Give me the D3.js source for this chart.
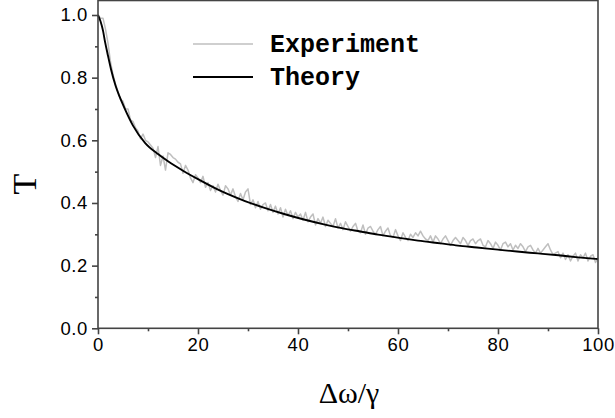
<!DOCTYPE html>
<html><head><meta charset="utf-8">
<script src="https://cdn.jsdelivr.net/npm/d3@7/dist/d3.min.js"></script>
<style>body{margin:0;background:#fff}svg{display:block}</style>
</head><body><svg id="c" width="615" height="418"></svg>
<script>
// Theory curve
const theoryX = [0,0.5,1,1.4,2,2.6,3.5,4.3,5.3,7,9.4,12,14,17,20,23.7,26,29.4,33,37.4,41,45.4,49,52.5,56,60.5,64,68.5,72,75.8,80,83.8,88,92.1,96,100];
const theoryY = [1.0,0.98,0.95,0.915,0.87,0.827,0.775,0.74,0.703,0.647,0.592,0.556,0.533,0.503,0.476,0.445,0.428,0.406,0.386,0.364,0.348,0.331,0.319,0.309,0.299,0.288,0.28,0.271,0.264,0.258,0.251,0.245,0.239,0.233,0.2265,0.221];
// Experiment trace, x step 0.5 from 0 to 100
const expY = [1.00,0.99,0.99,0.955,0.91,0.85,0.81,0.78,0.755,0.73,0.725,0.70,0.70,0.665,0.66,0.64,0.63,0.605,0.62,0.60,
0.595,0.585,0.575,0.545,0.58,0.52,0.55,0.505,0.56,0.555,0.545,0.54,0.53,0.525,0.495,0.52,0.505,0.48,0.465,0.49,
0.48,0.465,0.485,0.45,0.465,0.44,0.455,0.435,0.46,0.44,0.425,0.455,0.445,0.425,0.445,0.42,0.405,0.43,0.41,0.435,
0.445,0.395,0.41,0.385,0.405,0.38,0.395,0.40,0.375,0.395,0.37,0.39,0.365,0.385,0.355,0.38,0.36,0.375,0.35,0.37,
0.355,0.365,0.345,0.37,0.34,0.355,0.365,0.33,0.35,0.335,0.355,0.325,0.345,0.335,0.325,0.35,0.32,0.335,0.315,0.34,
0.325,0.31,0.325,0.335,0.31,0.305,0.33,0.30,0.32,0.325,0.31,0.30,0.315,0.325,0.295,0.31,0.32,0.295,0.29,0.315,
0.295,0.28,0.305,0.29,0.28,0.30,0.29,0.305,0.295,0.31,0.295,0.285,0.28,0.295,0.275,0.295,0.285,0.27,0.285,0.295,
0.28,0.265,0.28,0.29,0.28,0.27,0.29,0.28,0.265,0.28,0.285,0.27,0.28,0.285,0.265,0.26,0.28,0.27,0.255,0.275,
0.265,0.25,0.27,0.275,0.26,0.27,0.25,0.265,0.255,0.27,0.26,0.245,0.26,0.265,0.25,0.24,0.255,0.24,0.25,0.26,
0.27,0.25,0.235,0.24,0.245,0.225,0.24,0.22,0.235,0.215,0.23,0.24,0.215,0.235,0.225,0.24,0.215,0.23,0.235,0.21,0.225];
const expX = expY.map((d,i)=>i*0.5);
const xTicks = [0,20,40,60,80,100];
const yTicks = [0.0,0.2,0.4,0.6,0.8,1.0];
const xMinor = [10,30,50,70,90];
const yMinor = [0.1,0.3,0.5,0.7,0.9];
const legendLabels = ["Experiment","Theory"];

const svg = d3.select("#c");
const L=98,R=598,T=0.5,B=328.3;
const x = d3.scaleLinear().domain([0,100]).range([L,R]);
const y = d3.scaleLinear().domain([0,1.0]).range([B,15]);
const axCol="#444";

// data lines
const expLine = d3.line().x(d=>x(d[0])).y(d=>y(d[1]));
const thLine = d3.line().x(d=>x(d[0])).y(d=>y(d[1])).curve(d3.curveMonotoneX);
svg.append("path").datum(expX.map((v,i)=>[v,expY[i]]))
  .attr("d",expLine).attr("fill","none").attr("stroke","#bfbfbf").attr("stroke-width",1.5).attr("stroke-linejoin","round");
svg.append("path").datum(theoryX.map((v,i)=>[v,theoryY[i]]))
  .attr("d",thLine).attr("fill","none").attr("stroke","#000").attr("stroke-width",1.9);

// frame
svg.append("rect").attr("x",L).attr("y",T).attr("width",R-L).attr("height",B-T)
  .attr("fill","none").attr("stroke",axCol).attr("stroke-width",1.6);

const fmt = d3.format(".1f");
const xAxis = svg.append("g").attr("transform",`translate(0,${B})`)
  .call(d3.axisBottom(x).tickValues(xTicks).tickSize(6).tickPadding(4).tickFormat(d3.format("d")));
const yAxis = svg.append("g").attr("transform",`translate(${L},0)`)
  .call(d3.axisLeft(y).tickValues(yTicks).tickSize(6).tickPadding(4).tickFormat(fmt));
const xAxisM = svg.append("g").attr("transform",`translate(0,${B})`)
  .call(d3.axisBottom(x).tickValues(xMinor).tickSize(3).tickFormat(""));
const yAxisM = svg.append("g").attr("transform",`translate(${L},0)`)
  .call(d3.axisLeft(y).tickValues(yMinor).tickSize(3).tickFormat(""));
[xAxis,yAxis,xAxisM,yAxisM].forEach(g=>{
  g.select(".domain").remove();
  g.selectAll("line").attr("stroke",axCol).attr("stroke-width",1.6);
  g.selectAll("text").attr("fill","#000").style("font-family","Arial, 'Liberation Sans', sans-serif")
   .style("font-size","18.5px").style("letter-spacing","0.6px");
});

// axis titles
svg.append("text").attr("x",349).attr("y",403).attr("text-anchor","middle")
  .style("font-family","'Liberation Serif','Times New Roman',serif").style("font-size","30px").text("Δω/γ");
svg.append("text").attr("transform","translate(36,184) rotate(-90)").attr("text-anchor","middle")
  .style("font-family","'Liberation Serif','Times New Roman',serif").style("font-size","34px").text("T");

// legend
const leg = svg.append("g");
const legStroke = ["#bfbfbf","#000"], legW=[1.5,1.9], legY=[44,77];
legendLabels.forEach((t,i)=>{
  leg.append("line").attr("x1",193).attr("x2",253).attr("y1",legY[i]).attr("y2",legY[i])
    .attr("stroke",legStroke[i]).attr("stroke-width",legW[i]);
  leg.append("text").attr("x",270).attr("y",legY[i]+8).text(t)
    .style("font-family","'Courier New','Liberation Mono',monospace").style("font-weight","bold").style("font-size","25px");
});
</script></body></html>
